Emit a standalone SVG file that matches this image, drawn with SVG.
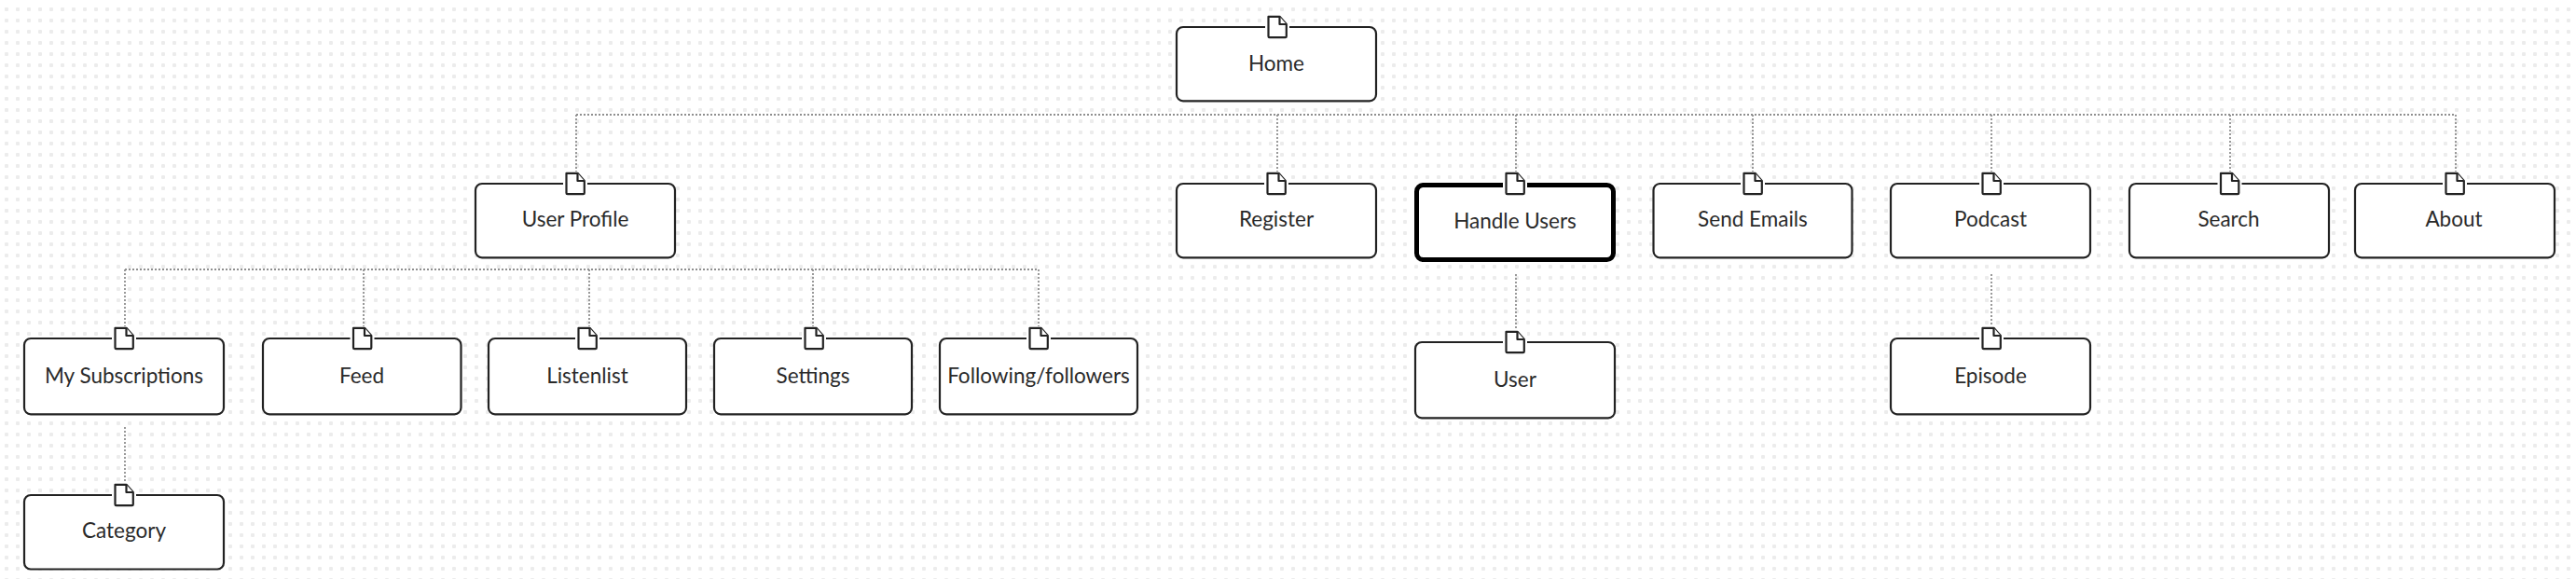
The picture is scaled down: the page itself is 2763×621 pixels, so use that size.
<svg xmlns="http://www.w3.org/2000/svg" width="2763" height="621" viewBox="0 0 2763 621">
<defs>
<pattern id="dots" x="0" y="0" width="12" height="12" patternUnits="userSpaceOnUse"><rect x="5" y="8" width="4" height="4" rx="1" fill="#ececec"/></pattern>
<g id="doc"><rect x="-13" y="-13" width="26" height="25.5" fill="#fff" stroke="none"/><path class="ic" d="M-9.5,-11.2H2.5L9.8,-3V10Q9.8,11.2 8.6,11.2H-8.3Q-9.5,11.2 -9.5,10Z"/><path class="ic" d="M2.5,-11.2V-3H9.8"/></g>
</defs>
<style>
text{font-family:Lato,"Liberation Sans",sans-serif;font-size:22.5px;fill:#2a2a2a;text-anchor:middle}
.box{fill:#fff;stroke:#222;stroke-width:2.2}
.sel{fill:#fff;stroke:#000;stroke-width:5}
.ic{fill:#fff;stroke:#222;stroke-width:2.2;stroke-linejoin:round}
.c{fill:none;stroke:#8f8f8f;stroke-width:1.8;stroke-dasharray:2 2}
</style>
<rect width="2763" height="621" fill="#fff"/>
<rect width="2763" height="621" fill="url(#dots)"/>
<g id="connectors">
<path class="c" d="M618,123H2634"/>
<path class="c" d="M618,123V185M1370,123V185M1626,123V185M1880,123V185M2136,123V185M2392,123V185M2634,123V185"/>
<path class="c" d="M134,289H1114"/>
<path class="c" d="M134,289V351M390,289V351M632,289V351M872,289V351M1114,289V351"/>
<path class="c" d="M1626,294V353M2136,294V351M134,458V519"/>
</g>
<g id="home"><rect class="box" x="1262" y="29" width="214" height="79.3" rx="7"/><use href="#doc" x="1370" y="29"/><text x="1369" y="76">Home</text></g>
<g id="user-profile"><rect class="box" x="510" y="197" width="214" height="79.3" rx="7"/><use href="#doc" x="617" y="197"/><text x="617" y="243.3">User Profile</text></g>
<g id="register"><rect class="box" x="1262" y="197" width="214" height="79.3" rx="7"/><use href="#doc" x="1369" y="197"/><text x="1369" y="243.3">Register</text></g>
<g id="handle-users"><rect class="sel" x="1519.5" y="198.5" width="211" height="80" rx="7"/><use href="#doc" x="1625" y="197"/><text x="1625" y="245">Handle Users</text></g>
<g id="send-emails"><rect class="box" x="1773.5" y="197" width="213" height="79.3" rx="7"/><use href="#doc" x="1880" y="197"/><text x="1880" y="243.3">Send Emails</text></g>
<g id="podcast"><rect class="box" x="2028" y="197" width="214" height="79.3" rx="7"/><use href="#doc" x="2136" y="197"/><text x="2135" y="243.3">Podcast</text></g>
<g id="search"><rect class="box" x="2284" y="197" width="214" height="79.3" rx="7"/><use href="#doc" x="2391.5" y="197"/><text x="2390.5" y="243.3">Search</text></g>
<g id="about"><rect class="box" x="2526" y="197" width="214" height="79.3" rx="7"/><use href="#doc" x="2633" y="197"/><text x="2632" y="243.3">About</text></g>
<g id="my-subscriptions"><rect class="box" x="26" y="363" width="214" height="81.3" rx="7"/><use href="#doc" x="133" y="363"/><text x="133" y="411">My Subscriptions</text></g>
<g id="feed"><rect class="box" x="282" y="363" width="212.5" height="81.3" rx="7"/><use href="#doc" x="388.5" y="363"/><text x="388" y="411">Feed</text></g>
<g id="listenlist"><rect class="box" x="524" y="363" width="212" height="81.3" rx="7"/><use href="#doc" x="630" y="363"/><text x="630" y="411">Listenlist</text></g>
<g id="settings"><rect class="box" x="766" y="363" width="212" height="81.3" rx="7"/><use href="#doc" x="873" y="363"/><text x="872" y="411">Settings</text></g>
<g id="following"><rect class="box" x="1008" y="363" width="212" height="81.3" rx="7"/><use href="#doc" x="1114" y="363"/><text x="1114" y="411">Following/followers</text></g>
<g id="user"><rect class="box" x="1518" y="367" width="214" height="81.3" rx="7"/><use href="#doc" x="1625" y="367"/><text x="1625" y="415">User</text></g>
<g id="episode"><rect class="box" x="2028" y="363" width="214" height="81.3" rx="7"/><use href="#doc" x="2136" y="363"/><text x="2135" y="411">Episode</text></g>
<g id="category"><rect class="box" x="26" y="531" width="214" height="79.5" rx="7"/><use href="#doc" x="133" y="531"/><text x="133" y="577">Category</text></g>
</svg>
